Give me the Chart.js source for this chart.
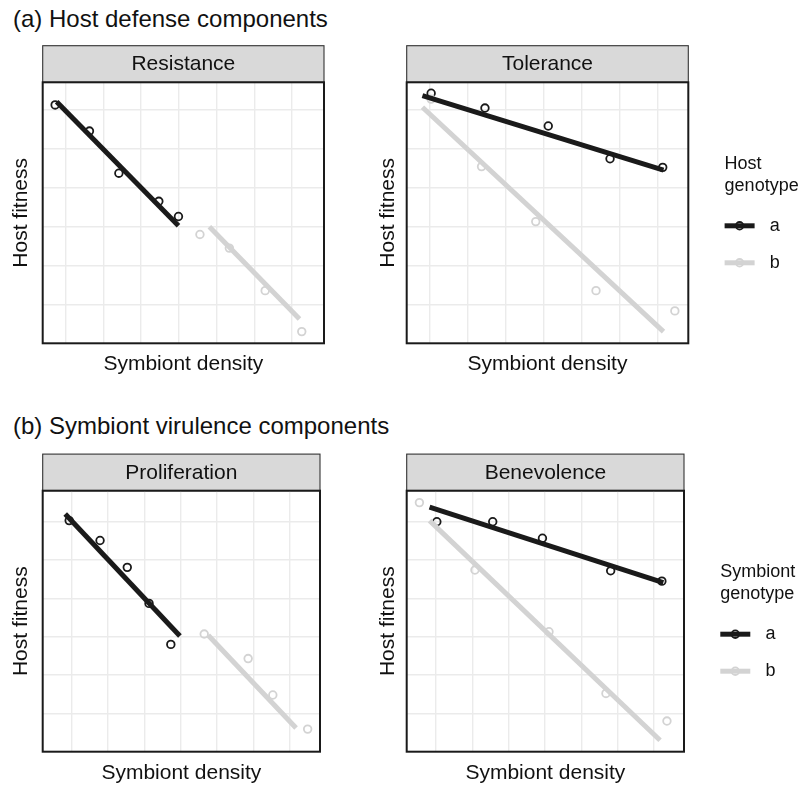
<!DOCTYPE html>
<html>
<head>
<meta charset="utf-8">
<script src="https://cdn.jsdelivr.net/npm/chart.js@4.4.1/dist/chart.umd.min.js"></script>
<style>
  body { margin: 0; background: #fff; width: 803px; height: 790px; position: relative; overflow: hidden;
         font-family: "Liberation Sans", Arial, Helvetica, sans-serif; }
  .section { position: absolute; left: 13px; font-size: 24px; line-height: 24px; color: #111; white-space: nowrap; }
  canvas { position: absolute; }
</style>
</head>
<body>
<div class="section" id="sec0" style="top:7px"></div>
<div class="section" id="sec1" style="top:414px"></div>
<canvas id="c0"></canvas>
<canvas id="c1"></canvas>
<canvas id="c2"></canvas>
<canvas id="c3"></canvas>
<script>
const FONT = '"Liberation Sans", Arial, Helvetica, sans-serif';
const BLACK = '#1a1a1a';
const GREY = '#d3d3d3';

// text
const sectionTitles = ['(a) Host defense components', '(b) Symbiont virulence components'];
const panelNames = ['Resistance', 'Tolerance', 'Proliferation', 'Benevolence'];
const legendTitles = [['Host', 'genotype'], ['Symbiont', 'genotype']];
const genotypes = ['a', 'b'];
const xLabel = 'Symbiont density';
const yLabel = 'Host fitness';

// grid lines (no tick labels in the figure, arbitrary units)
const xGrid = [1, 2, 3, 4, 5, 6, 7];
const yGrid = [1, 2, 3, 4, 5, 6];

// Resistance
const resAx = [0.72, 1.63, 2.41, 3.47, 3.99];
const resAy = [6.11, 5.44, 4.36, 3.64, 3.25];
const resAfitX = [0.76, 3.99];
const resAfitY = [6.19, 3.01];
const resBx = [4.56, 5.34, 6.29, 7.26];
const resBy = [2.79, 2.44, 1.35, 0.30];
const resBfitX = [4.81, 7.20];
const resBfitY = [2.99, 0.62];

// Tolerance
const tolAx = [1.03, 2.45, 4.12, 5.75, 7.14];
const tolAy = [6.41, 6.03, 5.57, 4.73, 4.51];
const tolAfitX = [0.80, 7.16];
const tolAfitY = [6.35, 4.44];
const tolBx = [1.03, 2.36, 3.79, 5.38, 7.46];
const tolBy = [6.26, 4.53, 3.12, 1.35, 0.83];
const tolBfitX = [0.80, 7.16];
const tolBfitY = [6.05, 0.30];

// Proliferation
const proAx = [0.93, 1.78, 2.53, 3.13, 3.73];
const proAy = [6.03, 5.51, 4.81, 3.87, 2.80];
const proAfitX = [0.82, 3.98];
const proAfitY = [6.20, 3.02];
const proBx = [4.65, 5.86, 6.54, 7.50];
const proBy = [3.07, 2.43, 1.48, 0.59];
const proBfitX = [4.76, 7.18];
const proBfitY = [3.04, 0.62];

// Benevolence
const benAx = [1.02, 2.56, 3.93, 5.81, 7.22];
const benAy = [6.00, 6.00, 5.57, 4.72, 4.45];
const benAfitX = [0.82, 7.26];
const benAfitY = [6.38, 4.41];
const benBx = [0.54, 2.07, 4.11, 5.68, 7.36];
const benBy = [6.50, 4.74, 3.13, 1.52, 0.80];
const benBfitX = [0.82, 7.17];
const benBfitY = [6.03, 0.30];

// axis ranges per panel
const xRanges = [[0.39, 7.85], [0.385, 7.815], [0.20, 7.84], [0.19, 7.83]];
const yRanges = [[0, 6.69], [0, 6.69], [0, 6.81], [0, 6.81]];

const pts = (xs, ys) => xs.map((x, i) => ({ x: x, y: ys[i] }));

const panelData = [
  [pts(resAx, resAy), pts(resBx, resBy), pts(resAfitX, resAfitY), pts(resBfitX, resBfitY)],
  [pts(tolAx, tolAy), pts(tolBx, tolBy), pts(tolAfitX, tolAfitY), pts(tolBfitX, tolBfitY)],
  [pts(proAx, proAy), pts(proBx, proBy), pts(proAfitX, proAfitY), pts(proBfitX, proBfitY)],
  [pts(benAx, benAy), pts(benBx, benBy), pts(benAfitX, benAfitY), pts(benBfitX, benBfitY)]
];

// layout: canvas [left, top, width, height], plot area [left, top, right, bottom], y-title gap
const layouts = [
  { canvas: [0, 0, 360, 400], plot: [42.7, 82.3, 324, 343.3], yw: 34.5 },
  { canvas: [360, 0, 443, 400], plot: [406.7, 82.3, 688.3, 343.3], yw: 31.3, legend: 0 },
  { canvas: [0, 400, 360, 390], plot: [42.7, 490.7, 320, 751.7], yw: 34.5 },
  { canvas: [360, 400, 443, 390], plot: [406.7, 490.7, 684, 751.7], yw: 31.3, legend: 1 }
];
const XH = 34;
const STRIP_H = 36.6;
const PT_R = 3.8;
const PT_W = 1.8;

sectionTitles.forEach((t, i) => { document.getElementById('sec' + i).textContent = t; });

// strip header, panel border and legend
const panelDecor = {
  id: 'panelDecor',
  beforeDraw(chart, args, opts) {
    const { ctx, chartArea: a } = chart;
    ctx.save();
    ctx.fillStyle = '#d9d9d9';
    ctx.fillRect(a.left, a.top - STRIP_H, a.right - a.left, STRIP_H);
    ctx.strokeStyle = '#333';
    ctx.lineWidth = 1.1;
    ctx.strokeRect(a.left, a.top - STRIP_H, a.right - a.left, STRIP_H);
    ctx.fillStyle = '#111';
    ctx.font = '21px ' + FONT;
    ctx.textAlign = 'center';
    ctx.textBaseline = 'middle';
    ctx.fillText(opts.name, (a.left + a.right) / 2, a.top - STRIP_H / 2 + 0.5);
    ctx.restore();
  },
  afterDatasetsDraw(chart) {
    const { ctx, chartArea: a } = chart;
    ctx.save();
    ctx.strokeStyle = BLACK;
    ctx.lineWidth = 2;
    ctx.strokeRect(a.left, a.top, a.right - a.left, a.bottom - a.top);
    ctx.restore();
  },
  afterDraw(chart, args, opts) {
    if (opts.legend === undefined) return;
    const { ctx, chartArea: a } = chart;
    const cy = (a.top + a.bottom) / 2;
    const x0 = a.right + 36.3;
    ctx.save();
    ctx.fillStyle = '#111';
    ctx.font = '18px ' + FONT;
    ctx.textAlign = 'left';
    ctx.textBaseline = 'alphabetic';
    const lines = legendTitles[opts.legend];
    ctx.fillText(lines[0], x0, cy - 44);
    ctx.fillText(lines[1], x0, cy - 22);
    [BLACK, GREY].forEach((col, i) => {
      const ky = cy + 13 + i * 37;
      ctx.strokeStyle = col;
      ctx.lineWidth = 5;
      ctx.beginPath();
      ctx.moveTo(x0, ky);
      ctx.lineTo(x0 + 30, ky);
      ctx.stroke();
      ctx.lineWidth = PT_W;
      ctx.beginPath();
      ctx.arc(x0 + 15, ky, PT_R, 0, Math.PI * 2);
      ctx.stroke();
      ctx.fillStyle = '#111';
      ctx.textBaseline = 'middle';
      ctx.fillText(genotypes[i], x0 + 45.2, ky);
    });
    ctx.restore();
  }
};

layouts.forEach((lay, p) => {
  const canvas = document.getElementById('c' + p);
  const [cx, cy, cw, ch] = lay.canvas;
  const [L, T, R, B] = lay.plot;
  canvas.style.left = cx + 'px';
  canvas.style.top = cy + 'px';
  canvas.width = cw;
  canvas.height = ch;

  const [ptsA, ptsB, fitA, fitB] = panelData[p];
  const gridOpts = { color: '#ebebeb', lineWidth: 1.4, drawTicks: false };
  const titleFont = { family: FONT, size: 21 };

  new Chart(canvas.getContext('2d'), {
    type: 'scatter',
    data: {
      datasets: [
        { label: 'fit b', data: fitB, showLine: true, borderColor: GREY, borderWidth: 5, pointRadius: 0, order: 0 },
        { label: 'fit a', data: fitA, showLine: true, borderColor: BLACK, borderWidth: 5, pointRadius: 0, order: 1 },
        { label: genotypes[1], data: ptsB, borderColor: GREY, backgroundColor: 'rgba(0,0,0,0)',
          pointRadius: PT_R, pointBorderWidth: PT_W, order: 2 },
        { label: genotypes[0], data: ptsA, borderColor: BLACK, backgroundColor: 'rgba(0,0,0,0)',
          pointRadius: PT_R, pointBorderWidth: PT_W, order: 3 }
      ]
    },
    options: {
      responsive: false,
      animation: false,
      events: [],
      layout: {
        padding: { left: L - cx - lay.yw, top: T - cy, right: cx + cw - R, bottom: cy + ch - B - XH }
      },
      scales: {
        x: {
          type: 'linear',
          min: xRanges[p][0],
          max: xRanges[p][1],
          afterBuildTicks: axis => { axis.ticks = xGrid.map(v => ({ value: v })); },
          afterFit: scale => { scale.height = XH; },
          ticks: { display: false },
          grid: gridOpts,
          border: { display: false },
          title: { display: true, text: xLabel, font: titleFont, color: '#111', padding: 0 }
        },
        y: {
          type: 'linear',
          min: yRanges[p][0],
          max: yRanges[p][1],
          afterBuildTicks: axis => { axis.ticks = yGrid.map(v => ({ value: v })); },
          afterFit: scale => { scale.width = lay.yw; },
          ticks: { display: false },
          grid: gridOpts,
          border: { display: false },
          title: { display: true, text: yLabel, font: titleFont, color: '#111', padding: 0 }
        }
      },
      plugins: {
        legend: { display: false },
        tooltip: { enabled: false },
        panelDecor: { name: panelNames[p], legend: lay.legend }
      }
    },
    plugins: [panelDecor]
  });
});
</script>
</body>
</html>
